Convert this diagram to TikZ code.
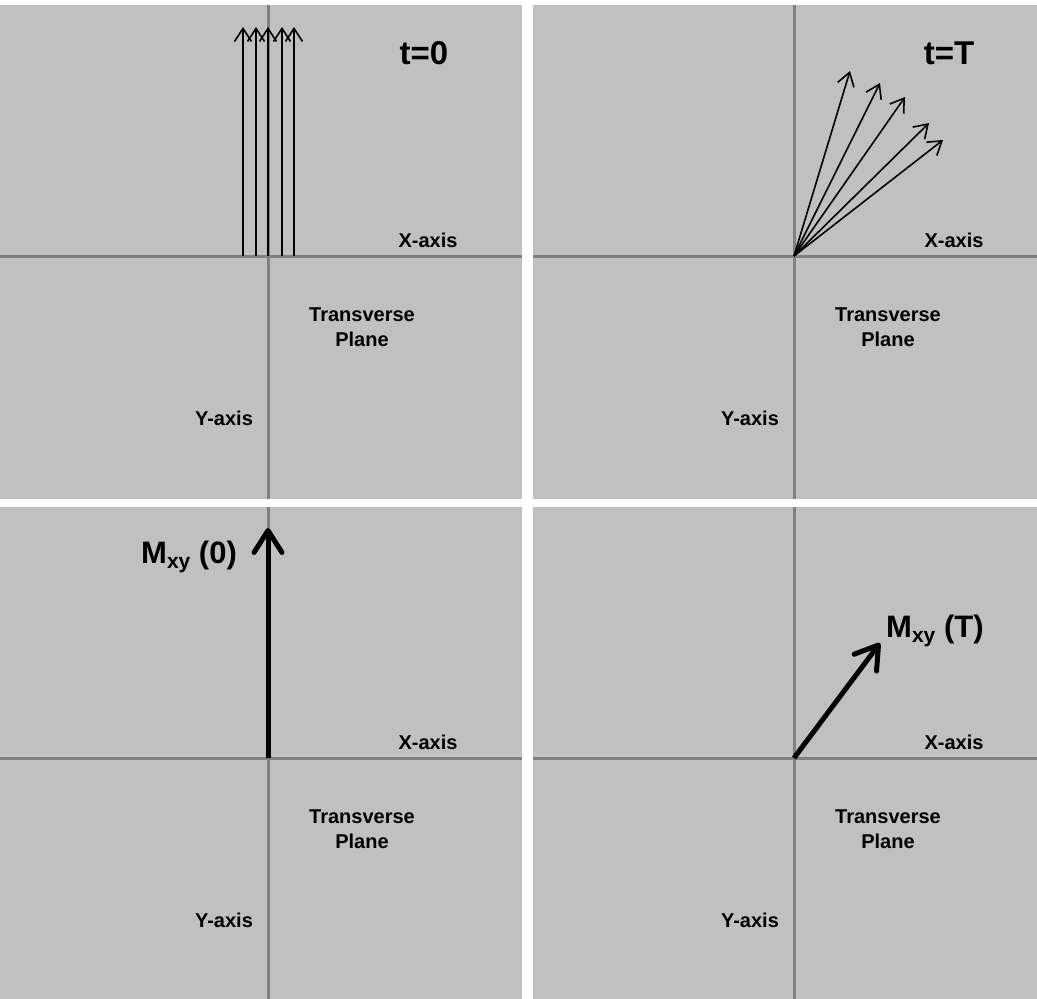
\documentclass[tikz,border=0pt]{standalone}
\usepackage{fontspec}
\setmainfont{Liberation Sans}
\usetikzlibrary{arrows.meta}
\definecolor{plane}{RGB}{192,192,192}
\definecolor{axisgray}{RGB}{128,128,128}

\begin{document}
\begin{tikzpicture}[x=1pt, y=-1pt,
  panel/.style={fill=plane, draw=none},
  axis/.style={draw=axisgray, line width=3pt},
  spin/.style={-{Straight Barb[length=13pt, width=17pt]}, line width=1.6pt},
  net/.style={-{Straight Barb[round, length=22pt, width=28pt]}, line width=5pt},
  lab/.style={font=\fontsize{20}{25}\selectfont\bfseries, inner sep=0pt, anchor=base, align=center},
  big/.style={font=\fontsize{33}{33}\selectfont\bfseries, inner sep=0pt, anchor=base},
  mag/.style={font=\fontsize{31}{31}\selectfont\bfseries, inner sep=0pt, anchor=base west}]
  \fill[white] (0,0) rectangle (1037,999);
  \useasboundingbox (0,0) rectangle (1037,999);

  % four panels: name/left/top/right/bottom/origin
  \foreach \p/\l/\t/\r/\b/\ox/\oy in {a/0/5/522/499/268/256, b/533/5/1037/499/794/256,
                                     c/0/507/522/999/268/758, d/533/507/1037/999/794/758} {
    \fill[panel] (\l,\t) rectangle (\r,\b);
    \coordinate (o\p) at (\ox,\oy);
    \draw[axis] (\l,\oy) -- (\r,\oy);
    \draw[axis] (\ox,\t) -- (\ox,\b);
    \node[lab] (x\p) at ([shift={(160,-9)}]o\p) {X-axis};
    \node[lab] (y\p) at ([shift={(-44,169)}]o\p) {Y-axis};
    \node[lab, anchor=north] (tp\p) at ([shift={(94,52)}]o\p) {Transverse\\Plane};
  }

  \node[big] (t0) at ([shift={(156,-192)}]oa) {t=0};
  \node[big] (tT) at ([shift={(155,-192)}]ob) {t=T};

  % spins in phase
  \foreach \i/\dx in {1/-25, 2/-12, 3/0, 4/14, 5/26} {
    \coordinate (f\i) at ([shift={(\dx,0)}]oa);
    \coordinate (g\i) at ([shift={(\dx,-229)}]oa);
    \draw[spin] (f\i) -- (g\i);
  }

  % spins fanned out
  \foreach \i/\dx/\dy in {1/56/-185, 2/86/-173, 3/111/-159, 4/135/-133, 5/149/-116} {
    \coordinate (h\i) at ([shift={(\dx,\dy)}]ob);
    \draw[spin] (ob) -- (h\i);
  }

  % net magnetisation
  \coordinate (m0) at ([shift={(0,-230)}]oc);
  \coordinate (mT) at ([shift={(86,-115)}]od);
  \draw[net] (oc) -- (m0);
  \draw[net] (od) -- (mT);
  \node[mag] (lm0) at ([shift={(-127,-195)}]oc)
    {M\raisebox{-5.5pt}{\fontsize{21}{21}\selectfont xy} (0)};
  \node[mag] (lmT) at ([shift={(92,-121)}]od)
    {M\raisebox{-5.5pt}{\fontsize{21}{21}\selectfont xy} (T)};
\end{tikzpicture}
\end{document}
